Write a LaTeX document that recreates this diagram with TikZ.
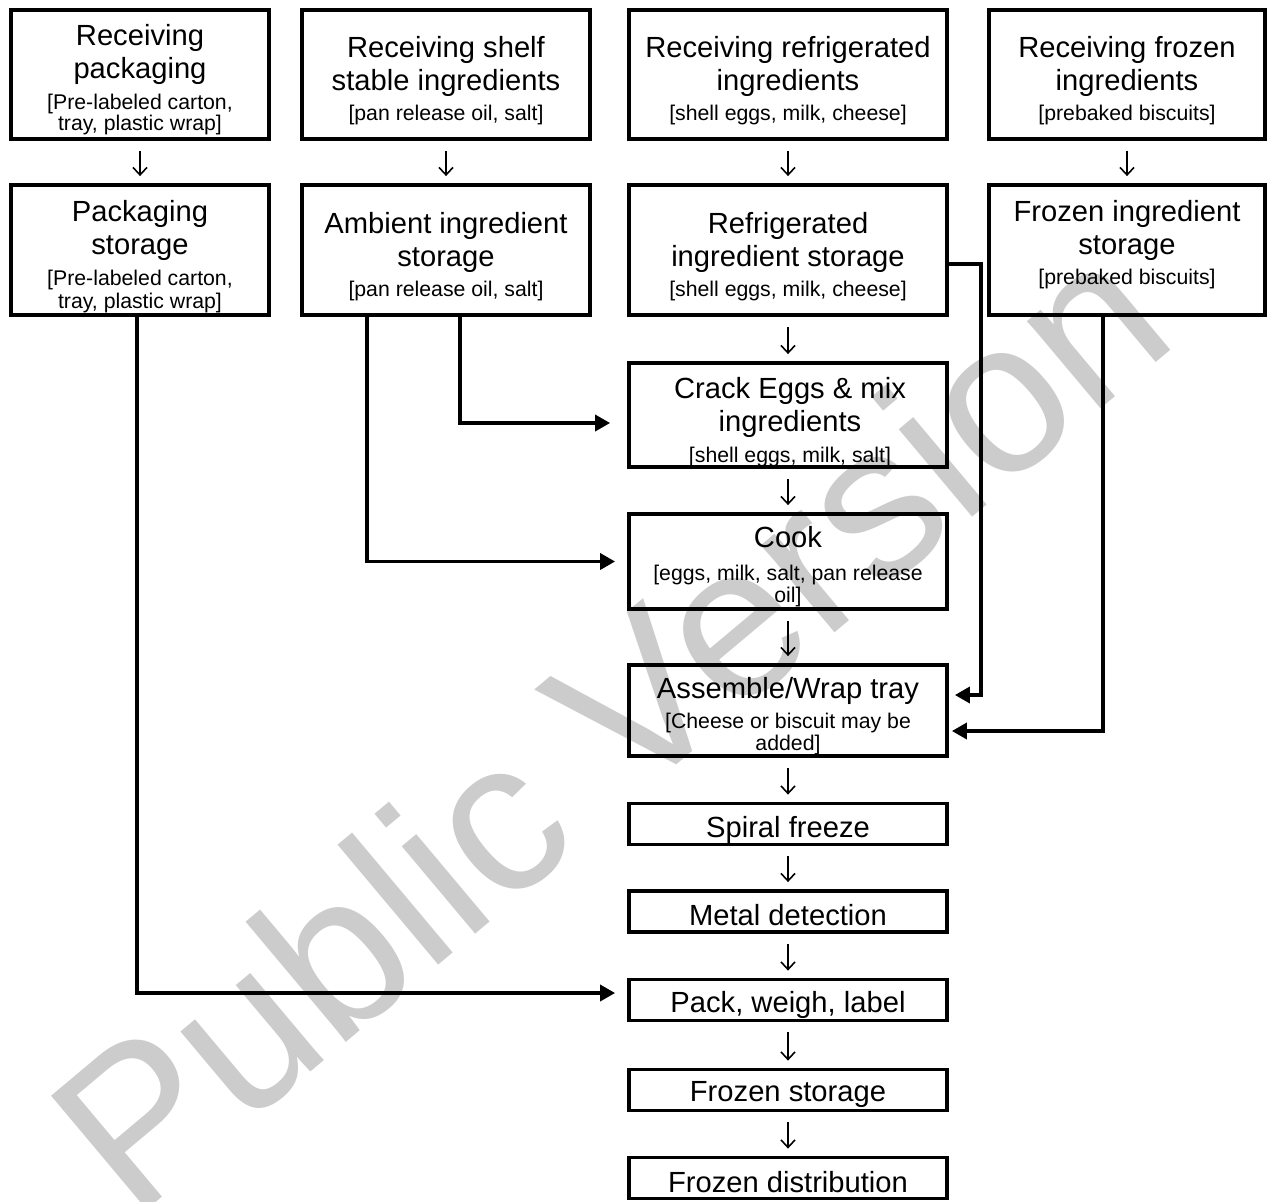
\documentclass[tikz,border=0pt]{standalone}
\usepackage{fontspec}
\setmainfont{Liberation Sans}
\usetikzlibrary{arrows.meta}
\newcommand{\bigf}{\fontsize{16.6}{18.7}\selectfont}
\newcommand{\smf}{\fontsize{12.1}{12.7}\selectfont}
\begin{document}
\begin{tikzpicture}[x=0.02cm,y=-0.02cm,
  box/.style={draw, line width=2.2pt, inner sep=0pt},
  txt/.style={inner sep=0pt, align=center, font=\bigf},
  thinarr/.style={line width=0.9pt, -{Straight Barb[length=0.15cm,width=0.28cm]}, shorten <=0.2cm, shorten >=0.14cm},
  feed/.style={line width=2pt, -{Triangle[length=0.3cm,width=0.32cm]}}]
\useasboundingbox (0,0) rectangle (1272,1201);
\node[text=gray!40, font=\fontsize{123}{126}\selectfont, rotate=40] (wm) at (608,722) {Public Version};
% row 1
\node[box, minimum width=5.16cm, minimum height=2.58cm] (B1) at (140,74.5) {};
\node[box, minimum width=5.76cm, minimum height=2.58cm] (B2) at (446,74.5) {};
\node[box, minimum width=6.36cm, minimum height=2.58cm] (B3) at (788,74.5) {};
\node[box, minimum width=5.52cm, minimum height=2.58cm] (B4) at (1127,74.5) {};
% row 2
\node[box, minimum width=5.16cm, minimum height=2.6cm] (B5) at (140,250) {};
\node[box, minimum width=5.76cm, minimum height=2.6cm] (B6) at (446,250) {};
\node[box, minimum width=6.36cm, minimum height=2.6cm] (B7) at (788,250) {};
\node[box, minimum width=5.52cm, minimum height=2.6cm] (B8) at (1127,250) {};
% main column
\node[box, minimum width=6.36cm, minimum height=2.08cm] (Crack) at (788,415) {};
\node[box, minimum width=6.36cm, minimum height=1.9cm] (Cook) at (788,561.5) {};
\node[box, minimum width=6.36cm, minimum height=1.82cm] (Assemble) at (788,710.5) {};
\node[box, minimum width=6.36cm, minimum height=0.82cm] (Spiral) at (788,824) {};
\node[box, minimum width=6.36cm, minimum height=0.82cm] (Metal) at (788,911.5) {};
\node[box, minimum width=6.36cm, minimum height=0.82cm] (Pack) at (788,1000) {};
\node[box, minimum width=6.36cm, minimum height=0.82cm] (FS) at (788,1090) {};
\node[box, minimum width=6.36cm, minimum height=0.82cm] (FD) at (788,1178) {};
% texts
\node[txt] (t1) at ([yshift=-0.10cm]B1.center)
  {Receiving\\packaging\\[-1pt]\smf[Pre-labeled carton,\\[-6.6pt]\smf tray, plastic wrap]};
\node[txt] (t2) at ([yshift=-0.13cm]B2.center)
  {Receiving shelf\\stable ingredients\\[-1.6pt]\smf[pan release oil, salt]};
\node[txt] (t3) at ([yshift=-0.13cm]B3.center)
  {Receiving refrigerated\\ingredients\\[-1.6pt]\smf[shell eggs, milk, cheese]};
\node[txt] (t4) at ([yshift=-0.13cm]B4.center)
  {Receiving frozen\\ingredients\\[-1.6pt]\smf[prebaked biscuits]};
\node[txt] (t5) at ([yshift=-0.13cm]B5.center)
  {Packaging\\storage\\[-1pt]\smf[Pre-labeled carton,\\[-6pt]\smf tray, plastic wrap]};
\node[txt] (t6) at ([yshift=-0.14cm]B6.center)
  {Ambient ingredient\\storage\\[-1.6pt]\smf[pan release oil, salt]};
\node[txt] (t7) at ([yshift=-0.14cm]B7.center)
  {Refrigerated\\ingredient storage\\[-1.6pt]\smf[shell eggs, milk, cheese]};
\node[txt] (t8) at ([yshift=0.1cm]B8.center)
  {Frozen ingredient\\storage\\[-1.6pt]\smf[prebaked biscuits]};
\node[txt] (t9) at ([yshift=-0.14cm,xshift=0.04cm]Crack.center)
  {Crack Eggs \& mix\\ingredients\\[-1pt]\smf[shell eggs, milk, salt]};
\node[txt] (t10) at ([yshift=-0.11cm]Cook.center)
  {Cook\\[0pt]\smf[eggs, milk, salt, pan release\\[-6.2pt]\smf oil]};
\node[txt] (t11) at ([yshift=-0.11cm]Assemble.center)
  {Assemble/Wrap tray\\[-2pt]\smf[Cheese or biscuit may be\\[-6.2pt]\smf added]};
\node[txt] (t12) at ([yshift=-0.11cm]Spiral.center) {Spiral freeze};
\node[txt] (t13) at ([yshift=-0.08cm]Metal.center) {Metal detection};
\node[txt] (t14) at ([yshift=-0.10cm]Pack.center) {Pack, weigh, label};
\node[txt] (t15) at ([yshift=-0.09cm]FS.center) {Frozen storage};
\node[txt] (t16) at ([yshift=-0.09cm]FD.center) {Frozen distribution};
% thin down arrows
\draw[thinarr] (B1) -- (B5);
\draw[thinarr] (B2) -- (B6);
\draw[thinarr] (B3) -- (B7);
\draw[thinarr] (B4) -- (B8);
\draw[thinarr] (B7) -- (Crack);
\draw[thinarr] (Crack) -- (Cook);
\draw[thinarr] (Cook) -- (Assemble);
\draw[thinarr] (Assemble) -- (Spiral);
\draw[thinarr] (Spiral) -- (Metal);
\draw[thinarr] (Metal) -- (Pack);
\draw[thinarr] (Pack) -- (FS);
\draw[thinarr] (FS) -- (FD);
% feed connectors
\draw[feed, shorten >=0.24cm] ([xshift=-0.06cm]B5.south) |- ([yshift=0.14cm]Pack.west);
\draw[feed, shorten >=0.34cm] ([xshift=0.28cm]B6.south) |- ([yshift=-0.16cm]Crack.west);
\draw[feed, shorten >=0.24cm] ([xshift=-1.58cm]B6.south) |- (Cook.west);
\draw[feed, shorten >=0.12cm] ([yshift=-0.28cm]B7.east) -| ([xshift=0.64cm,yshift=0.31cm]Assemble.east) -- ([yshift=0.31cm]Assemble.east);
\draw[feed, shorten >=0.06cm] ([xshift=-0.48cm]B8.south) |- ([yshift=-0.41cm]Assemble.east);
\end{tikzpicture}
\end{document}
